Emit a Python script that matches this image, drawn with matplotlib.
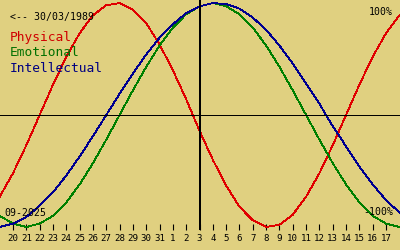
import matplotlib
matplotlib.use("Agg")
import matplotlib.pyplot as plt

# Day index: -1 = 19 Aug ... 29 = 18 Sep (tick labels at 0..28)
days = list(range(-1, 30))
tick_labels = ['20', '21', '22', '23', '24', '25', '26', '27', '28', '29', '30', '31',
               '1', '2', '3', '4', '5', '6', '7', '8', '9', '10', '11', '12', '13',
               '14', '15', '16', '17']
physical = [-0.73, -0.52, -0.27, 0.00, 0.27, 0.52, 0.73, 0.89, 0.98, 1.00, 0.94,
            0.82, 0.63, 0.40, 0.14, -0.14, -0.40, -0.63, -0.82, -0.94, -1.00,
            -0.98, -0.89, -0.73, -0.52, -0.27, 0.00, 0.27, 0.52, 0.73, 0.89]
emotional = [-0.90, -0.97, -1.00, -0.97, -0.90, -0.78, -0.62, -0.43, -0.22, 0.00,
             0.22, 0.43, 0.62, 0.78, 0.90, 0.97, 1.00, 0.97, 0.90, 0.78, 0.62,
             0.43, 0.22, 0.00, -0.22, -0.43, -0.62, -0.78, -0.90, -0.97, -1.00]
intellectual = [-1.00, -0.97, -0.91, -0.81, -0.69, -0.54, -0.37, -0.19, 0.00, 0.19,
                0.37, 0.54, 0.69, 0.81, 0.91, 0.97, 1.00, 0.99, 0.95, 0.87, 0.76,
                0.62, 0.46, 0.28, 0.10, -0.10, -0.28, -0.46, -0.62, -0.76, -0.87]
today_index = 14

BG = '#E0D080'
fig = plt.figure(figsize=(4, 2.5), dpi=100, facecolor=BG)
ax = fig.add_axes([0, 0.08, 1, 0.92])
ax.set_facecolor(BG)
for s in ax.spines.values():
    s.set_visible(False)

lw = 0.6
ax.plot(days, physical, color='#E00000', lw=lw, clip_on=False, antialiased=False)
ax.plot(days, emotional, color='#008000', lw=lw, clip_on=False, antialiased=False)
ax.plot(days, intellectual, color='#000090', lw=lw, clip_on=False, antialiased=False)

ax.axhline(0, color='black', lw=0.6, antialiased=False)
ax.axvline(today_index, color='black', lw=1.2, antialiased=False)

ax.set_xlim(-0.976, 29.05)
ax.set_ylim(-1.0268, 1.0268)
ax.set_yticks([])
ax.set_xticks(range(len(tick_labels)))
ax.set_xticklabels(tick_labels, family='DejaVu Sans Mono', fontsize=6.6)
ax.tick_params(axis='x', direction='in', length=4.5, width=0.8, color='black',
               pad=3, labelcolor='black')

mono = 'DejaVu Sans Mono'
fig.text(10/400, 1-17/250, '<-- 30/03/1989', family=mono, fontsize=7.1, va='center', ha='left')
fig.text(10/400, 1-38/250, 'Physical', family=mono, fontsize=9.3, va='center', ha='left', color='#D00000')
fig.text(10/400, 1-53/250, 'Emotional', family=mono, fontsize=9.3, va='center', ha='left', color='#007000')
fig.text(10/400, 1-68/250, 'Intellectual', family=mono, fontsize=9.3, va='center', ha='left', color='#000080')
fig.text(393/400, 1-12/250, '100%', family=mono, fontsize=7.1, va='center', ha='right')
fig.text(393/400, 1-212/250, '-100%', family=mono, fontsize=7.1, va='center', ha='right')
fig.text(4/400, 1-213/250, '09-2025', family=mono, fontsize=7.1, va='center', ha='left')

fig.savefig('out.png', dpi=100, facecolor=BG)
